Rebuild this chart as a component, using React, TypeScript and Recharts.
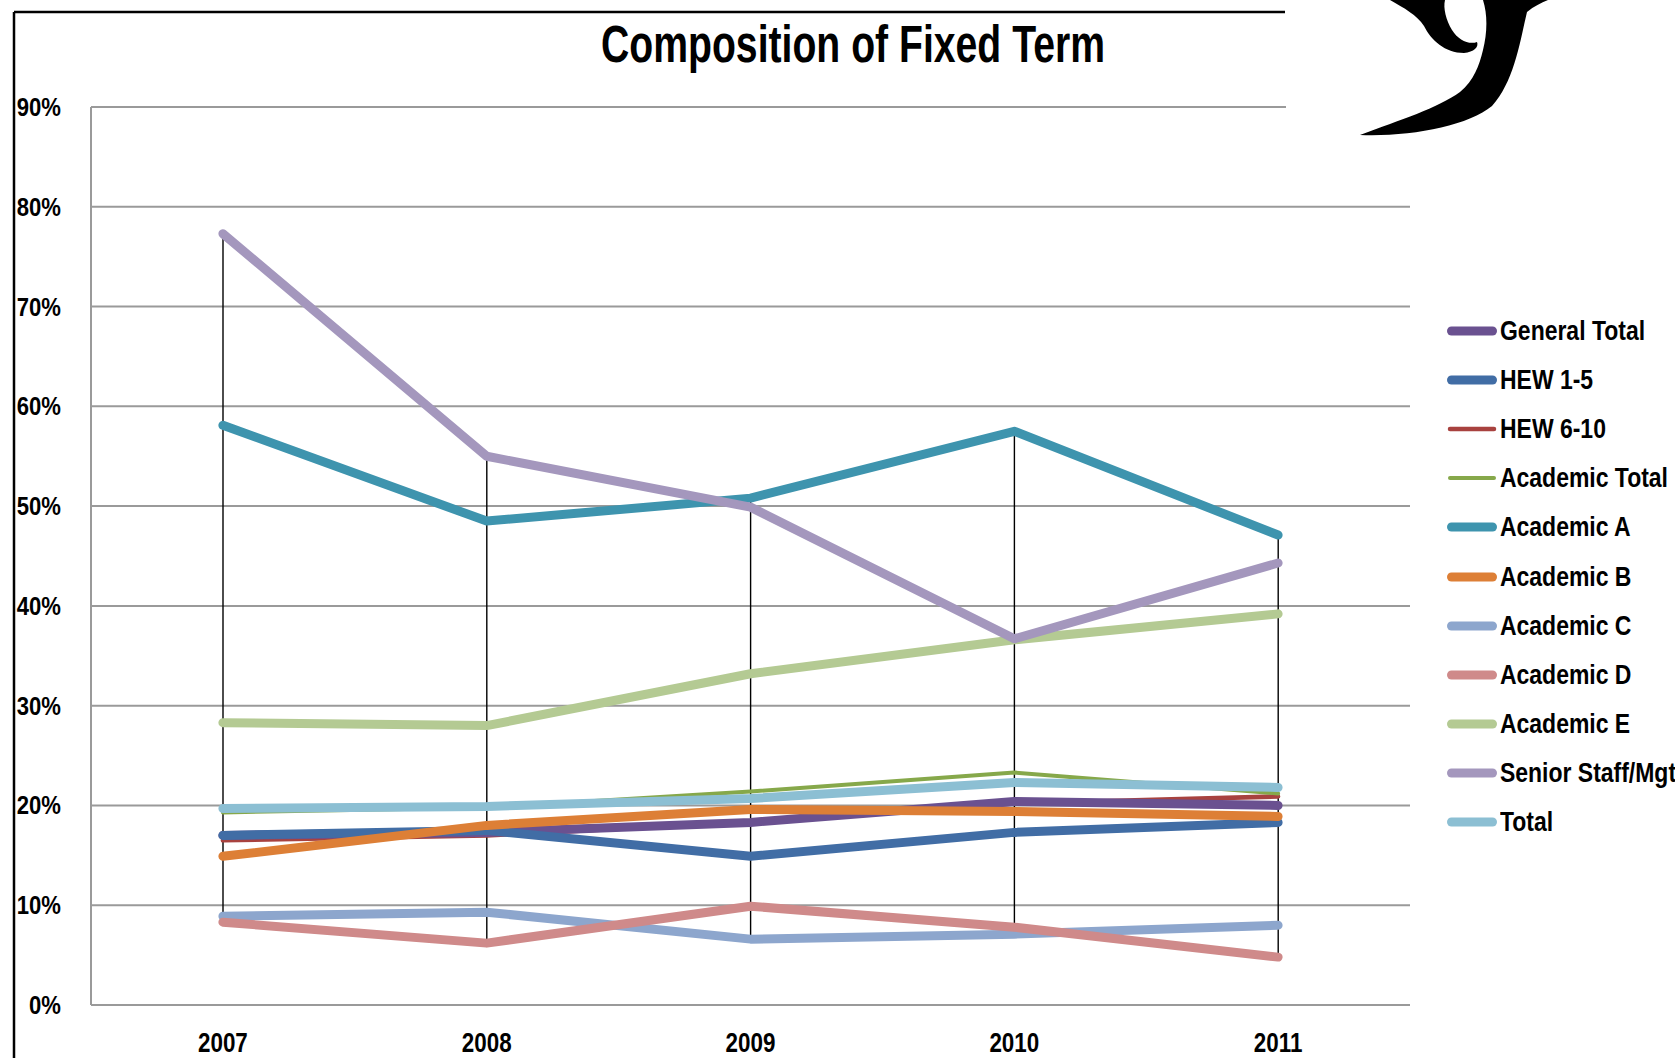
import React from "react";
import {
  ComposedChart,
  Line,
  Bar,
  XAxis,
  YAxis,
  CartesianGrid,
} from "recharts";

const years = ["2007", "2008", "2009", "2010", "2011"];
const yTicks = [0, 10, 20, 30, 40, 50, 60, 70, 80, 90];

const generalTotal = [17.0, 17.3, 18.3, 20.4, 20.0];
const hew1to5 = [17.0, 17.5, 14.9, 17.3, 18.3];
const hew6to10 = [16.5, 17.0, 18.3, 20.2, 20.9];
const academicTotal = [19.3, 19.8, 21.4, 23.3, 21.2];
const academicA = [58.1, 48.5, 50.8, 57.5, 47.1];
const academicB = [14.9, 18.0, 19.6, 19.4, 18.9];
const academicC = [8.9, 9.3, 6.6, 7.1, 8.0];
const academicD = [8.3, 6.2, 9.9, 7.8, 4.8];
const academicE = [28.3, 28.0, 33.2, 36.6, 39.2];
const seniorStaff = [77.3, 55.0, 49.9, 36.7, 44.3];
const total = [19.7, 19.9, 20.7, 22.3, 21.8];

const series = [
  { key: "generalTotal", name: "General Total", values: generalTotal, color: "#6a5190", width: 9 },
  { key: "hew1to5", name: "HEW 1-5", values: hew1to5, color: "#416da5", width: 9 },
  { key: "hew6to10", name: "HEW 6-10", values: hew6to10, color: "#a8423f", width: 4.5 },
  { key: "academicTotal", name: "Academic Total", values: academicTotal, color: "#86a84a", width: 4 },
  { key: "academicA", name: "Academic A", values: academicA, color: "#3e94ae", width: 9 },
  { key: "academicB", name: "Academic B", values: academicB, color: "#dd7f36", width: 9 },
  { key: "academicC", name: "Academic C", values: academicC, color: "#8da6cd", width: 9 },
  { key: "academicD", name: "Academic D", values: academicD, color: "#cf8a8a", width: 9 },
  { key: "academicE", name: "Academic E", values: academicE, color: "#b4ca93", width: 9 },
  { key: "seniorStaff", name: "Senior Staff/Mgt", values: seniorStaff, color: "#a497bd", width: 9 },
  { key: "total", name: "Total", values: total, color: "#8cbfd3", width: 9 },
];

// stacking order on the plot (HEW 6-10 sits underneath General Total)
const drawOrder = [
  "hew6to10", "generalTotal", "hew1to5", "academicTotal", "academicA", "academicB",
  "academicC", "academicD", "academicE", "seniorStaff", "total",
];

// table for recharts, plus the high-low range per year
const data = years.map((year, i) => {
  const row: any = { year };
  const vals = series.map((s) => s.values[i]);
  series.forEach((s) => (row[s.key] = s.values[i]));
  row.hiLo = [Math.min(...vals), Math.max(...vals)];
  return row;
});

const FONT = "'Liberation Sans', Arial, sans-serif";

const YTick = (props: any) => {
  const { x, y, payload } = props;
  return (
    <text
      transform={`translate(${x},${y + 9}) scale(0.85,1)`}
      textAnchor="end"
      fontFamily={FONT}
      fontWeight="bold"
      fontSize={26}
      fill="#000"
    >
      {payload.value}%
    </text>
  );
};

const XTick = (props: any) => {
  const { x, y, payload } = props;
  return (
    <text
      transform={`translate(${x},${y + 47}) scale(0.8,1)`}
      textAnchor="middle"
      fontFamily={FONT}
      fontWeight="bold"
      fontSize={28}
      fill="#000"
    >
      {payload.value}
    </text>
  );
};

const HiLoLine = (props: any) => {
  const { x, y, width, height } = props;
  const cx = x + width / 2;
  const top = Math.min(y, y + height);
  const bottom = Math.max(y, y + height);
  return <line x1={cx} y1={top} x2={cx} y2={bottom} stroke="#000" strokeWidth={1.4} />;
};

function LegendBox() {
  return (
    <div style={{ position: "absolute", left: 1446, top: 306 }}>
      {series.map((s) => (
        <div key={s.key} style={{ height: 49.2, display: "flex", alignItems: "center", whiteSpace: "nowrap" }}>
          <svg width={52} height={14} style={{ flex: "none" }}>
            <line
              x1={s.width > 5 ? 5.5 : 4}
              y1={7}
              x2={s.width > 5 ? 46.5 : 48}
              y2={7}
              stroke={s.color}
              strokeWidth={s.width}
              strokeLinecap="round"
            />
          </svg>
          <span
            style={{
              display: "inline-block",
              fontFamily: FONT,
              fontWeight: "bold",
              fontSize: 28,
              transform: "scaleX(0.82)",
              transformOrigin: "left center",
              color: "#000",
              marginLeft: 2,
            }}
          >
            {s.name}
          </span>
        </div>
      ))}
    </div>
  );
}

export default function App() {
  const ordered = drawOrder.map((k) => series.find((s) => s.key === k)!);
  return (
    <div
      style={{
        position: "absolute",
        left: 0,
        top: 0,
        width: 1675,
        height: 1058,
        background: "#fff",
        overflow: "hidden",
      }}
    >
      <ComposedChart
        width={1675}
        height={1058}
        data={data}
        margin={{ top: 107, right: 265, bottom: 0, left: 0 }}
      >
        <CartesianGrid vertical={false} stroke="#9a9a9a" strokeWidth={2} />
        <XAxis
          dataKey="year"
          height={53}
          axisLine={{ stroke: "#9a9a9a", strokeWidth: 2 }}
          tickLine={false}
          tickSize={0}
          tickMargin={0}
          tick={<XTick />}
          interval={0}
        />
        <YAxis
          width={91}
          domain={[0, 90]}
          ticks={yTicks}
          interval={0}
          axisLine={{ stroke: "#9a9a9a", strokeWidth: 2 }}
          tickLine={false}
          tickSize={0}
          tickMargin={30}
          tick={<YTick />}
        />
        {ordered.map((s) => (
          <Line
            key={s.key}
            dataKey={s.key}
            name={s.name}
            type="linear"
            stroke={s.color}
            strokeWidth={s.width}
            strokeLinecap="round"
            strokeLinejoin="round"
            dot={false}
            activeDot={false}
            isAnimationActive={false}
          />
        ))}
        <Bar dataKey="hiLo" barSize={10} shape={<HiLoLine />} isAnimationActive={false} />
      </ComposedChart>

      <svg
        width={1675}
        height={1058}
        style={{ position: "absolute", left: 0, top: 0, pointerEvents: "none" }}
      >
        <line x1={14} y1={12} x2={14} y2={1058} stroke="#000" strokeWidth={2.5} />
        <line x1={14} y1={12} x2={1285} y2={12} stroke="#000" strokeWidth={2.5} />
        <rect x={1286} y={0} width={389} height={190} fill="#fff" />
        <path
          d="M1360,135 C1410,137 1468,126 1492,106 C1514,82 1520,42 1527,12 C1534,6 1541,3 1548,0 L1483,0 C1488,16 1487,34 1483,50 C1479,66 1474,80 1460,92 C1438,108 1400,120 1360,135 Z"
          fill="#000"
        />
        <path
          d="M1390,0 C1404,8 1417,15 1424,26 C1431,40 1445,53 1464,53 C1474,52 1479,47 1477,42 C1469,45 1458,40 1452,30 C1446,20 1443,8 1445,0 Z"
          fill="#000"
        />
        <text
          x={601}
          y={62}
          textLength={504}
          lengthAdjust="spacingAndGlyphs"
          fontFamily={FONT}
          fontWeight="bold"
          fontSize={51}
          fill="#000"
        >
          Composition of Fixed Term
        </text>
      </svg>

      <LegendBox />
    </div>
  );
}
